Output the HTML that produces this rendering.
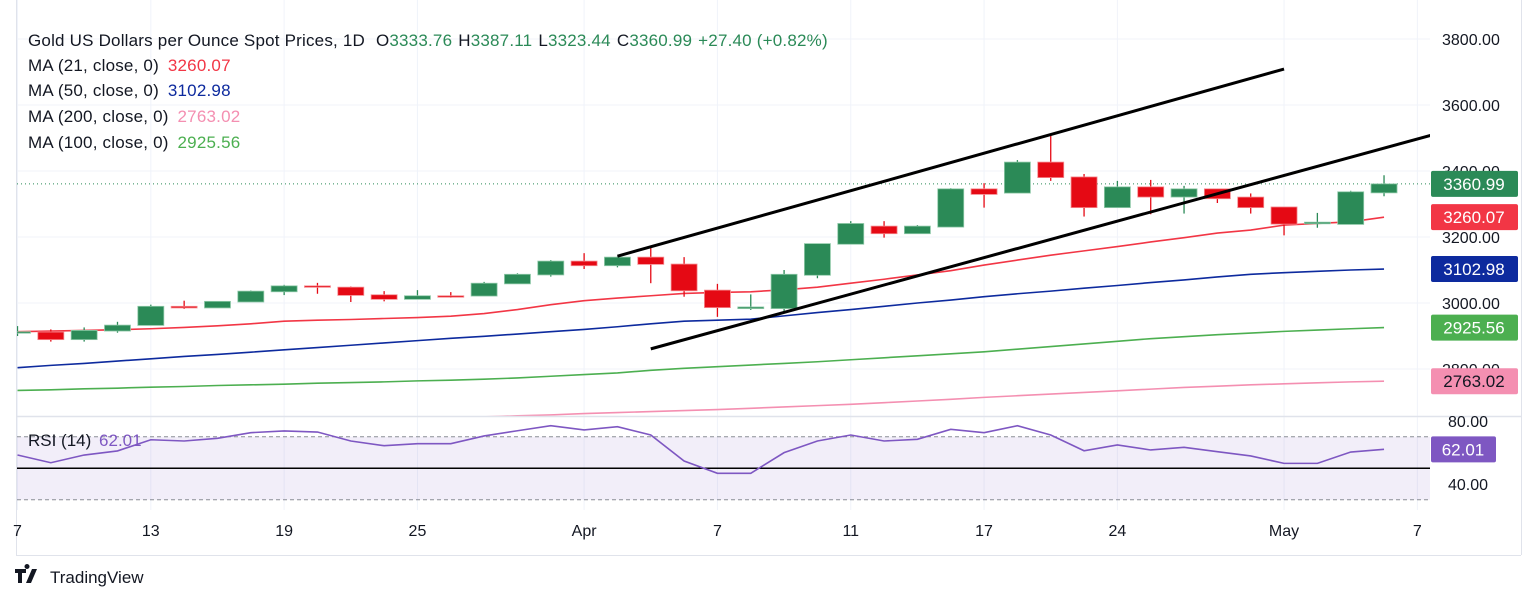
<!DOCTYPE html>
<html><head><meta charset="utf-8"><title>Gold Spot Chart</title>
<style>
html,body{margin:0;padding:0;background:#fff;width:1536px;height:602px;overflow:hidden;font-family:"Liberation Sans","DejaVu Sans",sans-serif;}
svg text{font-family:"Liberation Sans","DejaVu Sans",sans-serif;}
</style></head>
<body>
<svg id="chart" width="1536" height="602" viewBox="0 0 1536 602" xmlns="http://www.w3.org/2000/svg">
  <rect x="0" y="0" width="1536" height="602" fill="#fff"/>
  <g id="grid"></g>
  <defs>
    <clipPath id="priceClip"><rect x="17" y="0" width="1413" height="416"/></clipPath>
    <clipPath id="rsiClip"><rect x="17" y="417" width="1413" height="93"/></clipPath>
  </defs>
  <g id="rsiPane" clip-path="url(#rsiClip)"></g>
  <g id="pricePane" clip-path="url(#priceClip)"></g>
  <g id="axes"></g>
  <g id="legend">
    <text x="28" y="46" font-size="17" letter-spacing="0.2" fill="#131722">Gold US Dollars per Ounce Spot Prices, 1D <tspan dx="6">O</tspan><tspan fill="#2b8a57">3333.76</tspan><tspan dx="6">H</tspan><tspan fill="#2b8a57">3387.11</tspan><tspan dx="6">L</tspan><tspan fill="#2b8a57">3323.44</tspan><tspan dx="6">C</tspan><tspan fill="#2b8a57">3360.99</tspan><tspan dx="6" fill="#2b8a57">+27.40 (+0.82%)</tspan></text>
    <text x="28" y="71" font-size="17" letter-spacing="0.2" fill="#131722">MA (21, close, 0) <tspan dx="4" fill="#f23645">3260.07</tspan></text>
    <text x="28" y="96" font-size="17" letter-spacing="0.2" fill="#131722">MA (50, close, 0) <tspan dx="4" fill="#0d2a9e">3102.98</tspan></text>
    <text x="28" y="122" font-size="17" letter-spacing="0.2" fill="#131722">MA (200, close, 0) <tspan dx="4" fill="#f48fb1">2763.02</tspan></text>
    <text x="28" y="148" font-size="17" letter-spacing="0.2" fill="#131722">MA (100, close, 0) <tspan dx="4" fill="#4caf50">2925.56</tspan></text>
    <text x="28" y="446" font-size="17" fill="#131722">RSI (14) <tspan dx="3" fill="#7e57c2">62.01</tspan></text>
  </g>
  <g>
    <path d="M15 569h11v4h-4v10h-4v-10h-3z M27 569a2.5 2.5 0 1 1 0.01 0z M32 569h5l-6 14h-5z" fill="#131722"/>
    <text x="50" y="583" font-size="17" fill="#131722">TradingView</text>
  </g>
</svg>
<script>
const dates = ["Mar 7","Mar 10","Mar 11","Mar 12","Mar 13","Mar 14","Mar 17","Mar 18","Mar 19","Mar 20","Mar 21","Mar 24","Mar 25","Mar 26","Mar 27","Mar 28","Mar 31","Apr 1","Apr 2","Apr 3","Apr 4","Apr 7","Apr 8","Apr 9","Apr 10","Apr 11","Apr 14","Apr 15","Apr 16","Apr 17","Apr 21","Apr 22","Apr 23","Apr 24","Apr 25","Apr 28","Apr 29","Apr 30","May 1","May 2","May 5","May 6"];
const opens  = [2910,2912,2889,2915,2932,2990,2985,3003,3034,3052,3048,3025,3011,3022,3021,3058,3085,3127,3113,3139,3118,3039,2983,2983,3084,3178,3233,3210,3230,3346,3333,3427,3382,3289,3352,3321,3346,3321,3291,3240,3238,3333.76];
const highs  = [2930,2920,2926,2943,2995,3007,3006,3038,3055,3061,3050,3036,3039,3033,3064,3090,3130,3151,3141,3171,3139,3058,3026,3100,3180,3248,3248,3236,3348,3363,3433,3506,3391,3370,3373,3355,3346,3332,3291,3273,3340,3387.11];
const lows   = [2900,2883,2883,2910,2932,2982,2985,3003,3024,3028,3003,3005,3011,3016,3021,3058,3080,3103,3108,3060,3019,2958,2979,2974,3075,3178,3198,3210,3230,3289,3333,3370,3262,3289,3269,3271,3303,3271,3205,3228,3238,3323.44];
const closes = [2913,2889,2917,2933,2990,2985,3005,3036,3052,3048,3023,3011,3022,3019,3060,3087,3127,3113,3139,3117,3037,2986,2988,3087,3180,3241,3210,3233,3346,3329,3427,3380,3289,3352,3321,3346,3316,3289,3239,3245,3337,3360.99];
const ma21  = [2913,2915,2917,2919,2922,2926,2931,2937,2945,2948,2950,2953,2956,2960,2968,2980,2995,3007,3015,3022,3029,3032,3034,3040,3048,3060,3072,3085,3098,3115,3130,3145,3158,3171,3185,3198,3212,3221,3236,3241,3246,3260.07];
const ma50  = [2804,2811,2817,2824,2831,2838,2844,2851,2858,2865,2872,2879,2886,2893,2899,2906,2913,2920,2928,2937,2945,2948,2951,2961,2971,2980,2990,3000,3009,3019,3028,3036,3045,3053,3062,3070,3079,3087,3092,3096,3100,3102.98];
const ma100 = [2735,2737,2740,2742,2745,2747,2750,2752,2754,2757,2759,2761,2764,2766,2769,2773,2778,2783,2788,2796,2802,2807,2812,2817,2822,2828,2834,2840,2846,2852,2860,2868,2876,2884,2892,2898,2904,2909,2914,2918,2922,2925.56];
const ma200 = [2612,2615,2618,2621,2624,2627,2630,2633,2636,2639,2642,2645,2648,2651,2655,2658,2661,2665,2668,2671,2674,2677,2681,2685,2689,2693,2698,2703,2708,2714,2719,2724,2729,2734,2739,2744,2748,2752,2755,2758,2761,2763.02];
const rsi   = [58.4,53.5,58.4,61.0,68.1,67.3,69.0,72.6,73.7,73.0,67.3,64.3,65.6,65.6,70.5,73.8,77.0,74.3,76.4,71.1,54.6,46.8,46.8,59.9,67.3,71.1,67.3,68.4,74.7,72.6,77.0,71.1,61.1,64.8,61.6,63.3,60.5,57.8,53.1,53.1,60.3,62.01];
const priceTicks = [3800,3600,3400,3200,3000,2800];
const rsiTicks = [80,40];
const timeLabels = ["7","13","19","25","Apr","7","11","17","24","May","7"];
const timeLabelIdx = [0,4,8,12,17,21,25,29,33,38,42];
const trendUpper = [[18,3142],[38,3709]];
const trendLower = [[19,2861],[42.4,3508]];

const NS = "http://www.w3.org/2000/svg";
const X = i => 17.5 + i * 33.33;
const Y = p => 39 + (3800 - p) * 0.33;
const RY = r => 421 + (80 - r) * 1.575;
function mk(tag, attrs, parent){ const e=document.createElementNS(NS,tag); for(const k in attrs) e.setAttribute(k,attrs[k]); parent.appendChild(e); return e; }

const grid = document.getElementById('grid');
const pp = document.getElementById('pricePane');
const rp = document.getElementById('rsiPane');
const ax = document.getElementById('axes');

priceTicks.forEach(p=>{ const l=mk('line',{x1:17,x2:1430,y1:Y(p),y2:Y(p),stroke:'#f0f3fa','stroke-width':1},grid);

 });
timeLabelIdx.forEach(i=>{ const l=mk('line',{x1:X(i),x2:X(i),y1:0,y2:510,stroke:'#f0f3fa','stroke-width':1},grid);

 });
const fr1=mk('line',{x1:16.5,x2:16.5,y1:0,y2:555,stroke:'#e0e3eb'},ax);


const fr2=mk('line',{x1:16,x2:1521,y1:555.5,y2:555.5,stroke:'#e0e3eb'},ax);


const fr3=mk('line',{x1:1521.5,x2:1521.5,y1:0,y2:555,stroke:'#e0e3eb'},ax);


const fr4=mk('line',{x1:16,x2:1521,y1:416.5,y2:416.5,stroke:'#e0e3eb','stroke-width':1.5},ax);



const band=mk('rect',{x:17,y:RY(70),width:1413,height:RY(30)-RY(70),fill:'#7e57c2','fill-opacity':0.1},rp);


[70,30].forEach(v=>{ const l=mk('line',{x1:17,x2:1430,y1:RY(v),y2:RY(v),stroke:'#8a8d96','stroke-dasharray':'4,3','stroke-width':1},rp);

 });
const mid=mk('line',{x1:17,x2:1430,y1:RY(50),y2:RY(50),stroke:'#000','stroke-width':1.5},rp);


const rl=mk('polyline',{points:rsi.map((v,i)=>X(i)+','+RY(v)).join(' '),fill:'none',stroke:'#7e57c2','stroke-width':1.6},rp);



function maLine(arr,color,name){ const l=mk('polyline',{points:arr.map((v,i)=>X(i)+','+Y(v)).join(' '),fill:'none',stroke:color,'stroke-width':1.6},pp);

 }
maLine(ma200,'#f48fb1','ma200-line');
maLine(ma100,'#4caf50','ma100-line');
maLine(ma50,'#0d2a9e','ma50-line');
maLine(ma21,'#f23645','ma21-line');

const lp=mk('line',{x1:17,x2:1430,y1:Y(closes[41]),y2:Y(closes[41]),stroke:'#2b8a57','stroke-dasharray':'1,3','stroke-width':1},pp);



dates.forEach((d,i)=>{
  const up = closes[i] >= opens[i];
  const col = up ? '#2b8a57' : '#e50914';
  const g = mk('g',{},pp);
  
  
  mk('line',{x1:X(i),x2:X(i),y1:Y(highs[i]),y2:Y(lows[i]),stroke:col,'stroke-width':1.3},g);
  const top=Y(Math.max(opens[i],closes[i])), bot=Y(Math.min(opens[i],closes[i]));
  mk('rect',{x:X(i)-13,y:top,width:26,height:Math.max(1.5,bot-top),fill:col,stroke:up?'#8fc9a8':'#f58a8f','stroke-width':0.8},g);
});

[[trendUpper,'channel-upper-line'],[trendLower,'channel-lower-line']].forEach(([t,n])=>{
  const l=mk('line',{x1:X(t[0][0]),y1:Y(t[0][1]),x2:X(t[1][0]),y2:Y(t[1][1]),stroke:'#000','stroke-width':3},pp);
  
  
});

priceTicks.forEach(p=>{ const t=mk('text',{x:1442,y:Y(p)+6,'font-size':16,fill:'#131722'},ax); t.textContent=p.toFixed(2);

 });
rsiTicks.forEach(r=>{ const t=mk('text',{x:1448,y:RY(r)+6,'font-size':16,fill:'#131722'},ax); t.textContent=r.toFixed(2);

 });

const badges=[[ma200[41],'#f48fb1','#131722','ma200-badge'],[ma100[41],'#4caf50','#fff','ma100-badge'],[ma50[41],'#0d2a9e','#fff','ma50-badge'],[ma21[41],'#f23645','#fff','ma21-badge'],[closes[41],'#2b8a57','#fff','last-price-badge']];
badges.forEach(([v,bg,fg,n])=>{
  const g=mk('g',{},ax);
  
  
  mk('rect',{x:1431,y:Y(v)-13,width:87,height:26,rx:2,fill:bg},g);
  const t=mk('text',{x:1474,y:Y(v)+6,'font-size':17,fill:fg,'text-anchor':'middle'},g); t.textContent=v.toFixed(2);
});
(function(){ const v=rsi[41]; const g=mk('g',{},ax);


mk('rect',{x:1431,y:RY(v)-13,width:65,height:26,rx:2,fill:'#7e57c2'},g);
const t=mk('text',{x:1463,y:RY(v)+6,'font-size':17,fill:'#fff','text-anchor':'middle'},g); t.textContent=v.toFixed(2); })();

timeLabels.forEach((s,k)=>{ const t=mk('text',{x:X(timeLabelIdx[k]),y:536,'font-size':16,fill:'#131722','text-anchor':'middle'},ax); t.textContent=s;

 });
</script>
</body></html>
